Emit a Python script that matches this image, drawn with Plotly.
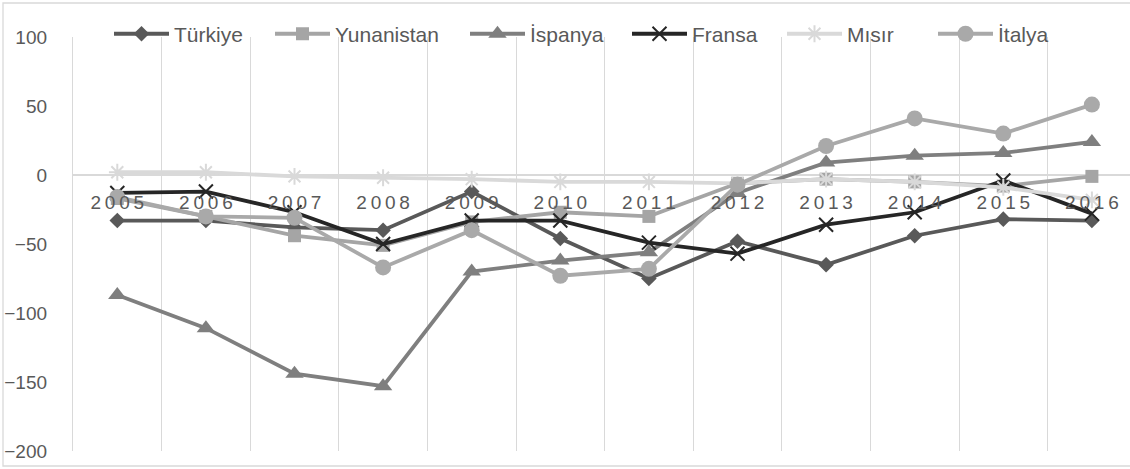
import plotly.graph_objects as go

years = ["2005", "2006", "2007", "2008", "2009", "2010", "2011", "2012", "2013", "2014", "2015", "2016"]
tick_labels = ["\u2009".join(y) for y in years]

turkiye = [-33, -33, -38, -40, -12, -46, -75, -48, -65, -44, -32, -33]
yunanistan = [-17, -30, -44, -51, -34, -27, -30, -6, -3, -5, -8, -1]
ispanya = [-87, -111, -144, -153, -70, -62, -56, -13, 9, 14, 16, 24]
fransa = [-13, -12, -27, -50, -33, -33, -49, -57, -36, -27, -4, -28]
misir = [2, 2, -1, -2, -3, -5, -5, -6, -3, -5, -9, -18]
italya = [-16, -30, -31, -67, -40, -73, -68, -7, 21, 41, 30, 51]

series = [
    ("Türkiye", turkiye, "#595959", "diamond", 12),
    ("Yunanistan", yunanistan, "#A5A5A5", "square", 13),
    ("İspanya", ispanya, "#7F7F7F", "triangle-up", 16),
    ("Fransa", fransa, "#262626", "x-thin", 14),
    ("Mısır", misir, "#D9D9D9", "asterisk", 14),
    ("İtalya", italya, "#A9A9A9", "circle", 16),
]

# legend text left edges (px) in the reference
legend_text_x = [175, 336, 531, 693, 848, 999]

L, T, PW, PH = 73, 37, 1057, 414

fig = go.Figure()
legend_layouts = {}
for i, (name, vals, color, sym, size) in enumerate(series):
    thin = sym in ("x-thin", "asterisk")
    lname = "legend" if i == 0 else f"legend{i+1}"
    fig.add_trace(go.Scatter(
        x=tick_labels, y=vals, name=name, mode="lines+markers",
        line=dict(color=color, width=3.8),
        marker=dict(symbol=sym, size=size, color=color,
                    line=dict(color=color, width=2 if thin else 0)),
        legend=lname,
    ))
    legend_layouts[lname] = dict(
        orientation="h", x=(legend_text_x[i] - 66 - L) / PW, xanchor="left",
        y=1.007, yanchor="middle", font=dict(size=21, color="#595959"),
        bgcolor="rgba(0,0,0,0)", itemwidth=55)

fig.update_layout(
    width=1130, height=469,
    margin=dict(l=L, r=0, t=T, b=469 - T - PH),
    paper_bgcolor="white", plot_bgcolor="white",
    font=dict(family="Liberation Sans, Arial, sans-serif", color="#595959"),
    showlegend=True,
    xaxis=dict(type="category", categoryorder="array", categoryarray=tick_labels,
               range=[-0.5, 11.43], tickson="boundaries", showgrid=True,
               gridcolor="#D9D9D9", gridwidth=1.3, ticks="", showline=False,
               zeroline=False, anchor="free", position=200/300,
               tickfont=dict(size=19, color="#595959"), ticklabelstandoff=14),
    yaxis=dict(range=[-200, 100], dtick=50, showgrid=False, zeroline=True,
               zerolinecolor="#D9D9D9", zerolinewidth=2, showline=True,
               linecolor="#D9D9D9", linewidth=1.3, ticks="",
               tickfont=dict(size=19, color="#595959"), ticklabelstandoff=21),
    shapes=[dict(type="rect", xref="paper", yref="paper",
                 x0=-70/PW, x1=1.1, y0=-15/PH, y1=(PH + T - 3)/PH,
                 line=dict(color="#D9D9D9", width=1.3), fillcolor="rgba(0,0,0,0)",
                 layer="below")],
    **legend_layouts,
)

fig.write_html("out.html", config={"displayModeBar": False},
               post_script="document.body.style.margin='0';")
